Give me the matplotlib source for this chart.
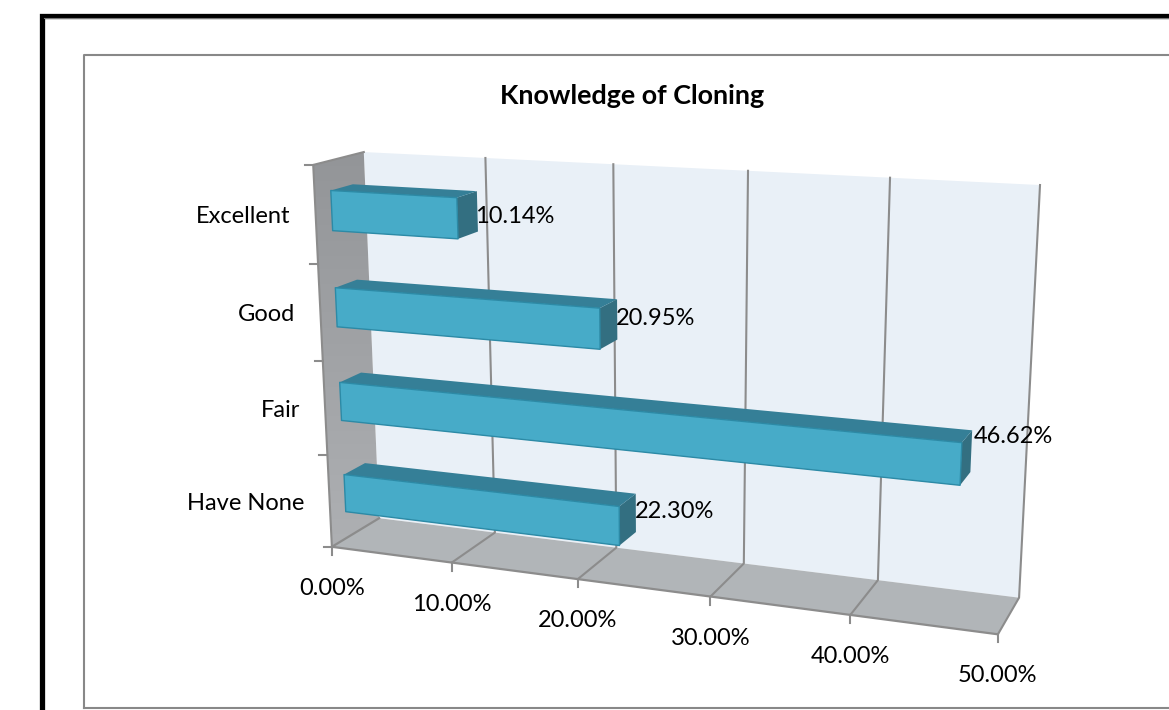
import numpy as np
import matplotlib
matplotlib.use('Agg')
import matplotlib.pyplot as plt
from matplotlib.colors import LinearSegmentedColormap
from matplotlib.patches import Polygon

plt.rcParams['font.family'] = ['Lato', 'DejaVu Sans']

categories = ['Have None', 'Fair', 'Good', 'Excellent']
values = [22.30, 46.62, 20.95, 10.14]
value_ticks = [0, 10, 20, 30, 40, 50]
title = 'Knowledge of Cloning'

W, H = 1169, 710
XMAX = 50.0
NCAT = len(categories)
BAR_Y = (0.29, 0.7)  # bar inside a category band
BAR_Z = (0.31, 0.75) # bar depth inside the box
FS = 17

# colours
C_WALL = '#E9F0F7'
C_FLOOR = '#B1B5B8'
C_GRID = '#8C8C8C'
C_FRONT = '#47ABC8'
C_TOP = '#357F97'
C_SIDE = '#336F81'
C_EDGE = '#2C8AA6'

# corners of the 3d box on the page: (x, y, z) in box units -> page pixel
CALIB = [
    ((0, 0, 0), (332, 547)), ((1, 0, 0), (998, 634)),
    ((0, 1, 0), (313, 165)), ((0, 0, 1), (379, 518)),
    ((1, 0, 1), (1019, 598)), ((0, 1, 1), (364, 152)),
    ((1, 1, 1), (1040, 185)),
]


def fit_camera(calib):
    # homogeneous projection, least squares
    A, b = [], []
    for (x, y, z), (u, v) in calib:
        A.append([x, y, z, 1, 0, 0, 0, 0, -u*x, -u*y, -u*z])
        A.append([0, 0, 0, 0, x, y, z, 1, -v*x, -v*y, -v*z])
        b += [u, v]
    p = np.linalg.lstsq(np.array(A, float), np.array(b, float), rcond=None)[0]
    return np.append(p, 1).reshape(3, 4)


CAM = fit_camera(CALIB)


def proj(val, cat, z):
    q = CAM @ np.array([val/XMAX, cat/NCAT, z, 1.0])
    return q[0]/q[2], q[1]/q[2]


def quad(ax, pts, color, edge=None, lw=0.0, zorder=2):
    ax.add_patch(Polygon([proj(*p) for p in pts], closed=True, facecolor=color,
                         edgecolor=edge or color, lw=lw, zorder=zorder,
                         joinstyle='round'))


fig = plt.figure(figsize=(W/100, H/100), dpi=100)
ax = fig.add_axes([0, 0, 1, 1])

# outer frames
ax.plot([41.5, 41.5, W+5], [H+5, 15.5, 15.5], color='black', lw=3.8, zorder=1,
        solid_joinstyle='miter')
ax.plot([44, W+5], [18.3, 18.3], color='#777777', lw=0.8, zorder=1)
ax.plot([84, 84, W+5], [H-2, 54.8, 54.8], color='#888888', lw=1.5, zorder=1)
ax.plot([84, W+5], [H-2, H-2], color='#888888', lw=1.5, zorder=1)

# back wall and floor
quad(ax, [(0, 0, 1), (XMAX, 0, 1), (XMAX, NCAT, 1), (0, NCAT, 1)], C_WALL)
quad(ax, [(0, 0, 0), (XMAX, 0, 0), (XMAX, 0, 1), (0, 0, 1)], C_FLOOR)

# side wall with vertical shade
side = Polygon([proj(0, 0, 0), proj(0, 0, 1), proj(0, NCAT, 1), proj(0, NCAT, 0)],
               closed=True, transform=ax.transData, fc='none', ec='none')
ax.add_patch(side)
shade = np.linspace(0, 1, 128).reshape(-1, 1)
im = ax.imshow(shade, extent=(300, 390, 550, 150), aspect='auto', zorder=2,
               cmap=LinearSegmentedColormap.from_list('wall', ['#939598', '#AEB0B3']))
im.set_clip_path(side)

ax.set_xlim(0, W)
ax.set_ylim(H, 0)
ax.axis('off')

# grid lines: back wall + floor + tick
for v in value_ticks[1:]:
    pts = [proj(v, NCAT, 1), proj(v, 0, 1), proj(v, 0, 0)]
    ax.plot(*zip(*pts), color=C_GRID, lw=1.5, zorder=3, solid_joinstyle='round')

# box edges
ax.plot(*zip(proj(0, 0, 1), proj(0, 0, 0), proj(XMAX, 0, 0)),
        color=C_GRID, lw=1.6, zorder=3)
ax.plot(*zip(proj(0, 0, 0), proj(0, NCAT, 0), proj(0, NCAT, 1)),
        color=C_GRID, lw=1.5, zorder=3)

# value ticks and labels
for v in value_ticks:
    x, y = proj(v, 0, 0)
    ax.plot([x, x], [y, y+8], color=C_GRID, lw=1.5, zorder=3)
    ax.text(x, y+41.5, f'{v:.2f}%', ha='center', va='center', fontsize=FS,
            color='black')

# category ticks
for i in range(NCAT+1):
    x, y = proj(0, i, 0)
    ax.plot([x-8, x], [y, y], color=C_GRID, lw=1.5, zorder=3)

# bars
z0, z1 = BAR_Z
for i, (cat, val) in enumerate(zip(categories, values)):
    y0, y1 = i+BAR_Y[0], i+BAR_Y[1]
    quad(ax, [(val, y0, z0), (val, y0, z1), (val, y1, z1), (val, y1, z0)],
         C_SIDE, zorder=4)
    quad(ax, [(0, y1, z0), (val, y1, z0), (val, y1, z1), (0, y1, z1)],
         C_TOP, zorder=4)
    quad(ax, [(0, y0, z0), (val, y0, z0), (val, y1, z0), (0, y1, z0)],
         C_FRONT, edge=C_EDGE, lw=1.0, zorder=5)

    # data label right of the bar end, drifts up with the value
    x, y = proj(val, i+0.5, z1)
    ax.text(x-4+0.13*val, y+11-0.54*val, f'{val:.2f}%', ha='left', va='center',
            fontsize=FS, color='black', zorder=6)

    # category label left of the axis
    x, y = proj(0, i+0.5, 0)
    ax.text(x-25, y+2, cat, ha='right', va='center', fontsize=FS, color='black')

ax.text(632, 95.5, title, ha='center', va='center', fontsize=19.4, fontweight='bold',
        color='black')

fig.savefig('out.png', dpi=100)
